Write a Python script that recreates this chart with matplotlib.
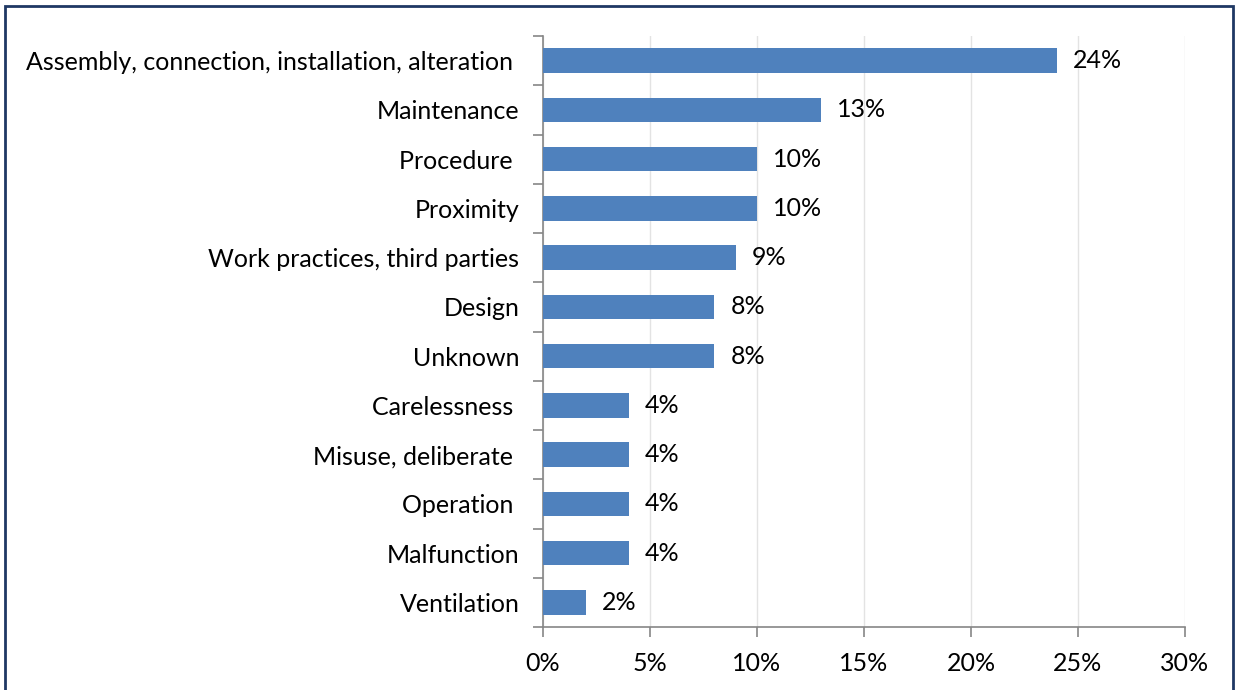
import matplotlib.pyplot as plt
from matplotlib.ticker import MultipleLocator, PercentFormatter
from matplotlib.patches import Rectangle

categories = ['Assembly, connection, installation, alteration ', 'Maintenance', 'Procedure ',
              'Proximity', 'Work practices, third parties', 'Design', 'Unknown',
              'Carelessness ', 'Misuse, deliberate ', 'Operation ', 'Malfunction', 'Ventilation']
values = [24, 13, 10, 10, 9, 8, 8, 4, 4, 4, 4, 2]

plt.rcParams['font.family'] = ['Lato', 'DejaVu Sans']
fs = 18

fig = plt.figure(figsize=(12.36, 6.9), dpi=100)
ax = fig.add_axes([543 / 1236, 1 - 627 / 690, 642 / 1236, 591 / 690])

n = len(categories)
pos = list(range(n))
ax.barh(pos, values, height=0.5, color='#4F81BD', zorder=3)
for p, v in zip(pos, values):
    ax.text(v + 0.75, p, f'{v}%', va='center', ha='left', fontsize=fs)

ax.set_ylim(n - 0.5, -0.5)
ax.set_xlim(0, 30)
ax.set_yticks(pos)
ax.set_yticklabels(categories, fontsize=fs)
ax.tick_params(axis='y', which='major', length=0, pad=17)
ax.set_yticks([i - 0.5 for i in range(n + 1)], minor=True)
ax.tick_params(axis='y', which='minor', length=7, width=1.2, color='#868686')

ax.xaxis.set_major_locator(MultipleLocator(5))
ax.xaxis.set_major_formatter(PercentFormatter(decimals=0))
ax.tick_params(axis='x', length=7, width=1.2, color='#868686', labelsize=fs, pad=11)

ax.grid(axis='x', color='#E3E3E3', linewidth=1, zorder=0)
for s in ['top', 'right']:
    ax.spines[s].set_visible(False)
for s in ['left', 'bottom']:
    ax.spines[s].set_color('#868686')
    ax.spines[s].set_linewidth(1.2)

fig.patches.append(Rectangle((5 / 1236, -0.05), 1228 / 1236, 1.05 - 6 / 690,
                             transform=fig.transFigure, fill=False,
                             edgecolor='#1F3864', linewidth=2))

fig.savefig('out.png', dpi=100)
